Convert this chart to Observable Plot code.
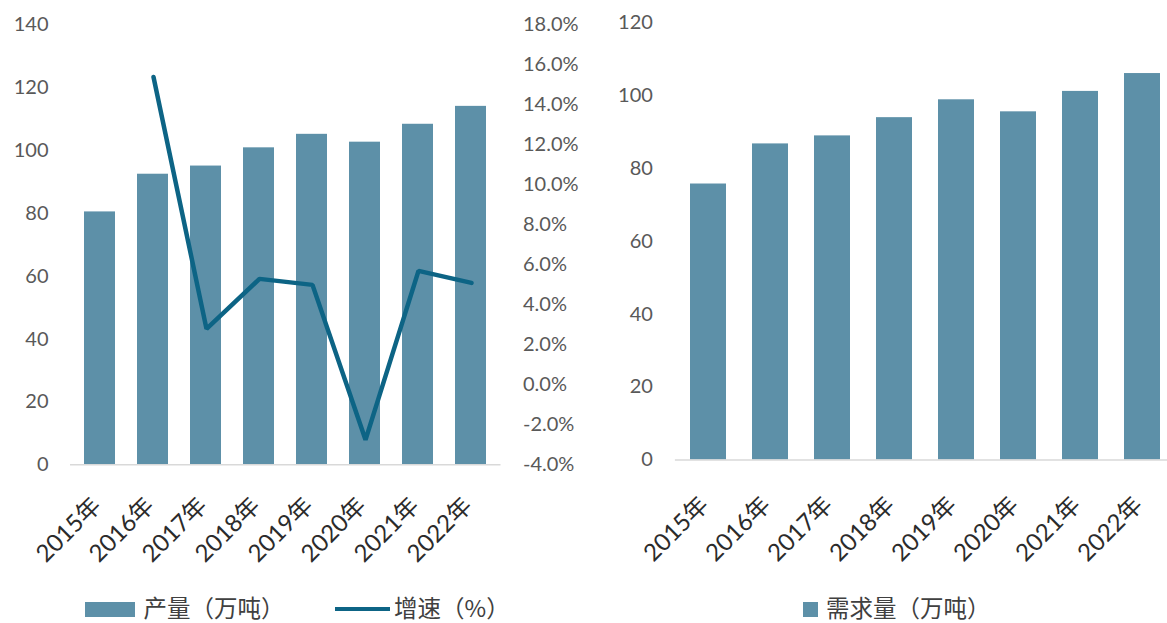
<!DOCTYPE html>
<html>
<head>
<meta charset="utf-8">
<script src="https://cdn.jsdelivr.net/npm/d3@7"></script>
<script src="https://cdn.jsdelivr.net/npm/@observablehq/plot@0.6"></script>
<style>
  html, body { margin: 0; padding: 0; background: #fff; overflow: hidden; }
  #root { position: relative; width: 1167px; height: 623px; overflow: hidden; background: #fff; }
  #root > .layer { position: absolute; top: 0; }
  .legend { position: absolute; font-family: "Noto Sans CJK SC", sans-serif; font-size: 23.5px; color: #404040; line-height: 24px; height: 24px; white-space: nowrap; }
</style>
</head>
<body>
<div id="root"></div>
<script>
// ---- data ----
const years = ["2015年", "2016年", "2017年", "2018年", "2019年", "2020年", "2021年", "2022年"];
const production = [80.5, 92.5, 95.1, 100.9, 105.2, 102.7, 108.4, 114.1];   // 产量（万吨）
const growth = [null, 15.4, 2.8, 5.3, 5.0, -2.75, 5.7, 5.1];                // 增速（%）
const demand = [75.7, 86.7, 88.9, 93.9, 98.8, 95.5, 101.1, 106.0];          // 需求量（万吨）
const leftTicks = [0, 20, 40, 60, 80, 100, 120, 140];
const rightTicks = [-4, -2, 0, 2, 4, 6, 8, 10, 12, 14, 16, 18];
const demandTicks = [0, 20, 40, 60, 80, 100, 120];

const barColor = "#5d90a8";
const lineColor = "#0d6485";
const tickColor = "#595959";
const xLabelColor = "#2b2b2b";
const numFont = "Lato, 'Noto Sans CJK SC', sans-serif";

const prodData = years.map((y, i) => ({year: y, value: production[i]}));
const growthData = years.map((y, i) => ({year: y, value: growth[i]})).filter(d => d.value != null);
const demandData = years.map((y, i) => ({year: y, value: demand[i]}));

const root = document.getElementById("root");
function place(svg, left) {
  svg.classList.add("layer");
  svg.style.left = left + "px";
  root.appendChild(svg);
}

// ---- left chart: bars ----
const L = {width: 600, height: 560, marginTop: 24.5, marginBottom: 95.7, marginLeft: 70, marginRight: 99.5};
const xLeft = {domain: years, paddingInner: 0.42, paddingOuter: 0.21, label: null};

const leftBars = Plot.plot({
  ...L,
  style: {fontFamily: numFont, background: "transparent", overflow: "visible"},
  x: xLeft,
  y: {domain: [0, 140], label: null},
  marks: [
    Plot.barY(prodData, {x: "year", y: "value", fill: barColor}),
    Plot.ruleY([0], {stroke: "#d9d9d9", strokeWidth: 1.5}),
    Plot.axisY({ticks: leftTicks, tickSize: 0, tickPadding: 22, fontSize: 20, color: tickColor, label: null}),
    Plot.axisX({tickRotate: -45, tickSize: 0, tickPadding: 37, dx: -3, fontSize: 24, color: xLabelColor, label: null})
  ]
});
place(leftBars, 0);

// ---- left chart: growth line on secondary axis ----
const leftLine = Plot.plot({
  ...L,
  style: {fontFamily: numFont, background: "transparent", overflow: "visible"},
  x: {...xLeft, axis: null},
  y: {domain: [-4, 18], label: null},
  marks: [
    Plot.lineY(growthData, {x: "year", y: "value", stroke: lineColor, strokeWidth: 4.5, strokeLinejoin: "miter"}),
    Plot.axisY({anchor: "right", ticks: rightTicks, tickFormat: d => d.toFixed(1) + "%", tickSize: 0, tickPadding: 22, fontSize: 20, color: tickColor, label: null})
  ]
});
place(leftLine, 0);

// ---- right chart: demand bars ----
const rightBars = Plot.plot({
  width: 580, height: 560, marginTop: 22, marginBottom: 100.5, marginLeft: 74.9, marginRight: 4.3,
  style: {fontFamily: numFont, background: "transparent", overflow: "visible"},
  x: {domain: years, paddingInner: 0.42, paddingOuter: 0.21, label: null},
  y: {domain: [0, 120], label: null},
  marks: [
    Plot.barY(demandData, {x: "year", y: "value", fill: barColor}),
    Plot.ruleY([0], {stroke: "#d9d9d9", strokeWidth: 1.5}),
    Plot.axisY({ticks: demandTicks, tickSize: 0, tickPadding: 22.5, fontSize: 20, color: tickColor, label: null}),
    Plot.axisX({tickRotate: -45, tickSize: 0, tickPadding: 41, dx: -4, fontSize: 24, color: xLabelColor, label: null})
  ]
});
place(rightBars, 600);

// ---- legends ----
function legendItem(swatchCss, label, textLeft) {
  const sw = document.createElement("div");
  sw.style.position = "absolute";
  Object.assign(sw.style, swatchCss);
  root.appendChild(sw);
  const t = document.createElement("div");
  t.className = "legend";
  t.style.left = textLeft + "px";
  t.style.top = "595px";
  t.textContent = label;
  root.appendChild(t);
}
legendItem({left: "85px", top: "601.5px", width: "50px", height: "15px", background: barColor}, "产量（万吨）", 143.5);
legendItem({left: "335px", top: "606.5px", width: "55px", height: "4.5px", background: lineColor}, "增速（%）", 394);
legendItem({left: "802.5px", top: "601.5px", width: "15.5px", height: "15px", background: barColor}, "需求量（万吨）", 826);
</script>
</body>
</html>
